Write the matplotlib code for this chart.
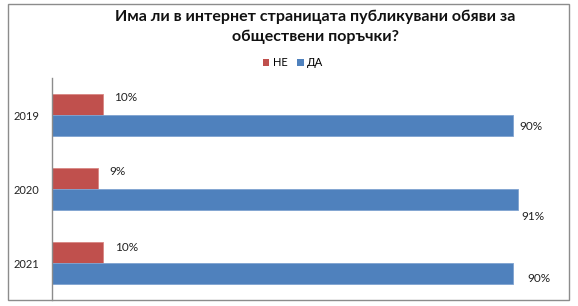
import matplotlib
matplotlib.use("Agg")
import matplotlib.pyplot as plt
from matplotlib.patches import Patch, Rectangle

plt.rcParams['font.family'] = ['Lato', 'DejaVu Sans']

years = ['2019', '2020', '2021']
no_vals = [10, 9, 10]
yes_vals = [90, 91, 90]
series_names = ['НЕ', 'ДА']
title = 'Има ли в интернет страницата публикувани обяви за\nобществени поръчки?'

RED = '#C0504D'
BLUE = '#4F81BD'

W, H = 578, 306
fig = plt.figure(figsize=(W / 100, H / 100), dpi=100)

# outer chart frame
fig.patches.append(Rectangle((8 / W, 1 - 300 / H), (569 - 8) / W, (300 - 4) / H,
                             transform=fig.transFigure, fill=False,
                             edgecolor='#8C8C8C', linewidth=1.0, zorder=0))

ax = fig.add_axes([52 / W, 1 - 300 / H, (564 - 52) / W, (300 - 78) / H])

bh = 0.278
pos = list(range(len(years)))
ax.barh([p - bh / 2 for p in pos], no_vals, height=bh, color=RED,
        edgecolor='#D98683', linewidth=0.6)
ax.barh([p + bh / 2 for p in pos], yes_vals, height=bh, color=BLUE,
        edgecolor='#7FA3D1', linewidth=0.6)

ax.set_xlim(0, 100)
ax.set_ylim(len(years) - 0.5, -0.5)
ax.set_yticks(pos)
ax.set_yticklabels(years, fontsize=8, color='#222222')
ax.tick_params(axis='y', length=0, pad=9)
ax.set_xticks([])
for side in ('top', 'right', 'bottom'):
    ax.spines[side].set_visible(False)
ax.spines['left'].set_color('#8C8C8C')
ax.spines['left'].set_linewidth(1.0)

# data labels, nudged beside each bar end (pixels)
red_offsets = [(22, 7), (19, 7), (23, 5)]
blue_offsets = [(18, -1), (15, -17), (26, -5)]
for p, v, off in zip(pos, no_vals, red_offsets):
    ax.annotate(f'{v}%', (v, p - bh / 2), xytext=off, textcoords='offset pixels',
                ha='center', va='center', fontsize=8.5, color='#222222')
for p, v, off in zip(pos, yes_vals, blue_offsets):
    ax.annotate(f'{v}%', (v, p + bh / 2), xytext=off, textcoords='offset pixels',
                ha='center', va='center', fontsize=8.5, color='#222222')

fig.text(315 / W, 1 - 27 / H, title, ha='center', va='center', fontsize=11.5,
         fontweight='bold', color='#111111', linespacing=1.45)

handles = [Patch(facecolor=RED), Patch(facecolor=BLUE)]
fig.legend(handles, series_names, loc='center', bbox_to_anchor=(293 / W, 1 - 63 / H),
           ncol=2, frameon=False, fontsize=8, handlelength=0.6, handleheight=0.6,
           handletextpad=0.3, columnspacing=0.9)

fig.savefig('out.png', dpi=100)
